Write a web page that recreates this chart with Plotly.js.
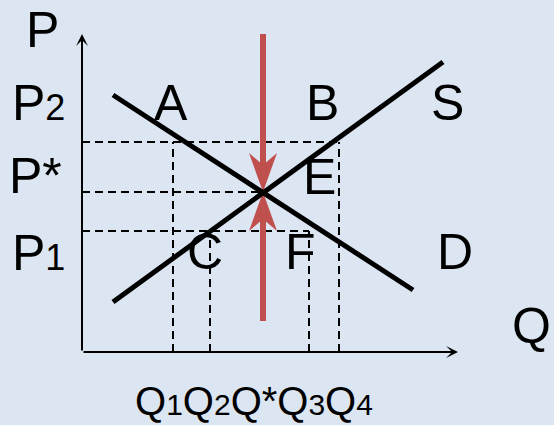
<!DOCTYPE html>
<html>
<head>
<meta charset="utf-8">
<script src="https://cdn.plot.ly/plotly-3.0.1.min.js"></script>
<style>html,body{margin:0;padding:0;background:#DCE6F2;}#chart{width:554px;height:425px;}</style>
</head>
<body>
<div id="chart"></div>
<script>
// ---- data (economic units) ----
const quantityLevels = [9.1, 12.8, 18.1, 22.7, 25.7];   // Q1, Q2, Q*, Q3, Q4
const quantityNames  = ['Q1', 'Q2', 'Q*', 'Q3', 'Q4'];
const priceLevels    = [12.1, 16.0, 21.0];              // P1, P*, P2
const priceNames     = ['P1', 'P*', 'P2'];
const demandQ = [3.1, 33.1];
const demandP = [25.7, 6.2];
const supplyQ = [3.1, 36.1];
const supplyP = [5.0, 29.0];
const axisQmax = 37.6;
const axisPmax = 31.8;
const pressureTop = 31.8;     // red arrow (excess supply) start
const pressureBottom = 3.1;   // red arrow (excess demand) start

const [Q1, Q2, Qs, Q3, Q4] = quantityLevels;
const [P1, Ps, P2] = priceLevels;

const BLACK = '#000000', RED = '#C0504D';
const FONT = 'Liberation Sans, Arial, sans-serif';
const dashStyle = {color: BLACK, width: 2, dash: '8px,5px'};

function seg(xs, ys, line) {
  return {x: xs, y: ys, mode: 'lines', line: line, hoverinfo: 'skip', showlegend: false, type: 'scatter'};
}

const traces = [];
// dashed guides
traces.push(seg([0, Q4], [P2, P2], dashStyle));
traces.push(seg([0, Qs], [Ps, Ps], dashStyle));
traces.push(seg([0, Q3], [P1, P1], dashStyle));
traces.push(seg([Q1, Q1], [0, P2], dashStyle));
traces.push(seg([Q4, Q4], [0, P2], dashStyle));
traces.push(seg([Q2, Q2], [0, P1], dashStyle));
traces.push(seg([Q3, Q3], [0, P1], dashStyle));

// red pressure arrows
const headLen = 3.9, headHalf = 1.4, notch = 2.7;
traces.push(seg([Qs, Qs], [pressureTop, Ps + notch], {color: RED, width: 6}));
traces.push(seg([Qs, Qs], [pressureBottom, Ps - notch], {color: RED, width: 6}));
traces.push({x: [Qs, Qs + headHalf, Qs, Qs - headHalf, Qs], y: [Ps, Ps + headLen, Ps + notch, Ps + headLen, Ps],
  mode: 'lines', fill: 'toself', fillcolor: RED, line: {width: 0, color: RED}, hoverinfo: 'skip', showlegend: false, type: 'scatter'});
traces.push({x: [Qs, Qs + headHalf, Qs, Qs - headHalf, Qs], y: [Ps, Ps - headLen, Ps - notch, Ps - headLen, Ps],
  mode: 'lines', fill: 'toself', fillcolor: RED, line: {width: 0, color: RED}, hoverinfo: 'skip', showlegend: false, type: 'scatter'});

// demand & supply
traces.push(seg(demandQ, demandP, {color: BLACK, width: 5}));
traces.push(seg(supplyQ, supplyP, {color: BLACK, width: 5}));

function sub(name, small) {
  const m = name.match(/^([A-Z])(.*)$/);
  if (m[2] === '*') return name;
  return m[1] + '<span style="font-size:' + small + 'px">' + m[2] + '</span>';
}
function label(text, x, y, dx, dy, size) {
  return {text: text, x: x, y: y, xref: 'x', yref: 'y', xshift: dx, yshift: dy, showarrow: false,
    xanchor: 'center', yanchor: 'middle', font: {family: FONT, size: size || 50, color: BLACK}};
}
function arrow(x, y, ax, ay) {
  return {x: x, y: y, ax: ax, ay: ay, xref: 'x', yref: 'y', axref: 'x', ayref: 'y', text: '',
    showarrow: true, arrowhead: 3, arrowsize: 1, arrowwidth: 2, arrowcolor: BLACK};
}

const annotations = [
  arrow(0, axisPmax, 0, 0),
  arrow(axisQmax, 0, 0, 0),
  label('P', 0, axisPmax, -40, 4),
  label('Q', axisQmax, 0, 73, 26),
  label(sub(priceNames[2], 36), 0, P2, -44, 39),
  label(priceNames[1], 0, Ps, -47, 16),
  label(sub(priceNames[0], 36), 0, P1, -44, -22),
  label('A', Q1, P2, -2, 39),
  label('B', Q4, P2, -17, 39),
  label('E', Qs, Ps, 56, 15),
  label('C', Q2, P1, -5, -21),
  label('F', Q3, P1, -9, -21),
  label('S', supplyQ[1], supplyP[1], 4, -41),
  label('D', demandQ[1], demandP[1], 42, 38),
  label(quantityNames.map(n => sub(n, 30)).join(''), Qs, 0, -9, -49, 40)
];

const layout = {
  width: 554, height: 425,
  margin: {l: 0, r: 0, t: 0, b: 0, pad: 0},
  paper_bgcolor: '#DCE6F2', plot_bgcolor: '#DCE6F2',
  xaxis: {range: [-8.2, 47.2], visible: false, fixedrange: true},
  yaxis: {range: [-7.3, 35.2], visible: false, fixedrange: true},
  annotations: annotations,
  showlegend: false
};
Plotly.newPlot('chart', traces, layout, {displayModeBar: false, staticPlot: true});
</script>
</body>
</html>
